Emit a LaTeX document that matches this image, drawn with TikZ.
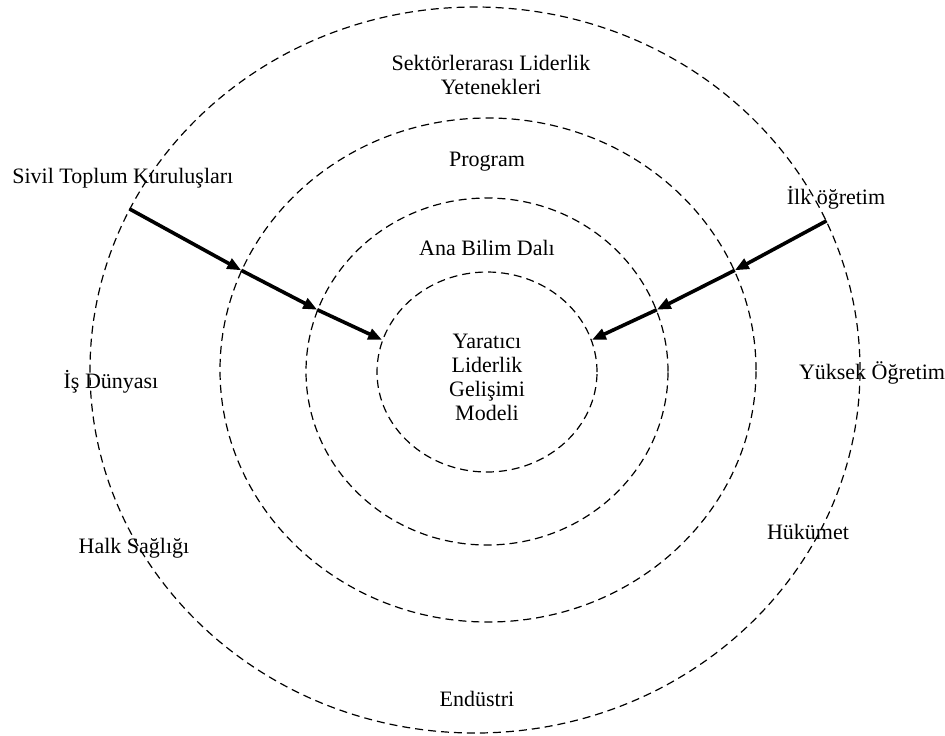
\documentclass[tikz,border=0pt]{standalone}
\usepackage{fontspec}
\setmainfont{Liberation Serif}
\usetikzlibrary{shapes.geometric,arrows.meta}
\begin{document}
\begin{tikzpicture}[x=0.5pt,y=-0.5pt,
  ring/.style={draw, ellipse, dash pattern=on 4pt off 2.5pt, line width=0.6pt, inner sep=0pt},
  lbl/.style={font=\fontsize{11}{12}\selectfont, inner sep=0pt, align=center},
  flow/.style={line width=1.8pt, -{Triangle[length=7pt,width=5.5pt]}}]
\useasboundingbox[fill=white] (0,0) rectangle (945,735);

% concentric dashed rings, outermost first
\node[ring, minimum width=385pt, minimum height=363pt] (outer)   at (475,370) {};
\node[ring, minimum width=268pt, minimum height=252pt] (sector)  at (488,370) {};
\node[ring, minimum width=181pt, minimum height=173.5pt] (program) at (487,371.5) {};
\node[ring, minimum width=110pt, minimum height=100pt] (inner)   at (487,372) {};

% ring titles
\node[lbl] (sek)  at (491,75)  {Sektörlerarası Liderlik\\Yetenekleri};
\node[lbl] (prog) at (487,162) {Program};
\node[lbl] (abd)  at (487,248) {Ana Bilim Dalı};
\node[lbl] (ylgm) at (487,377) {Yaratıcı\\Liderlik\\Gelişimi\\Modeli};

% sectors around the outer ring
\node[lbl, anchor=west] (stk) at (12,178) {Sivil Toplum Kuruluşları};
\node[lbl] (ilk)  at (836,198) {İlk öğretim};
\node[lbl] (isd)  at (111,382) {İş Dünyası};
\node[lbl] (yuk)  at (872,373) {Yüksek Öğretim};
\node[lbl] (halk) at (134,548) {Halk Sağlığı};
\node[lbl] (huk)  at (808,532) {Hükümet};
\node[lbl] (end)  at (477,699) {Endüstri};

% inward arrows, left side
\draw[flow] (outer.155)  -- (sector.158);
\draw[flow] (sector.158) -- (program.160);
\draw[flow] (program.160) -- (inner.163);

% inward arrows, right side
\draw[flow] (outer.23)  -- (sector.22);
\draw[flow] (sector.22) -- (program.20);
\draw[flow] (program.20) -- (inner.17);
\end{tikzpicture}
\end{document}
